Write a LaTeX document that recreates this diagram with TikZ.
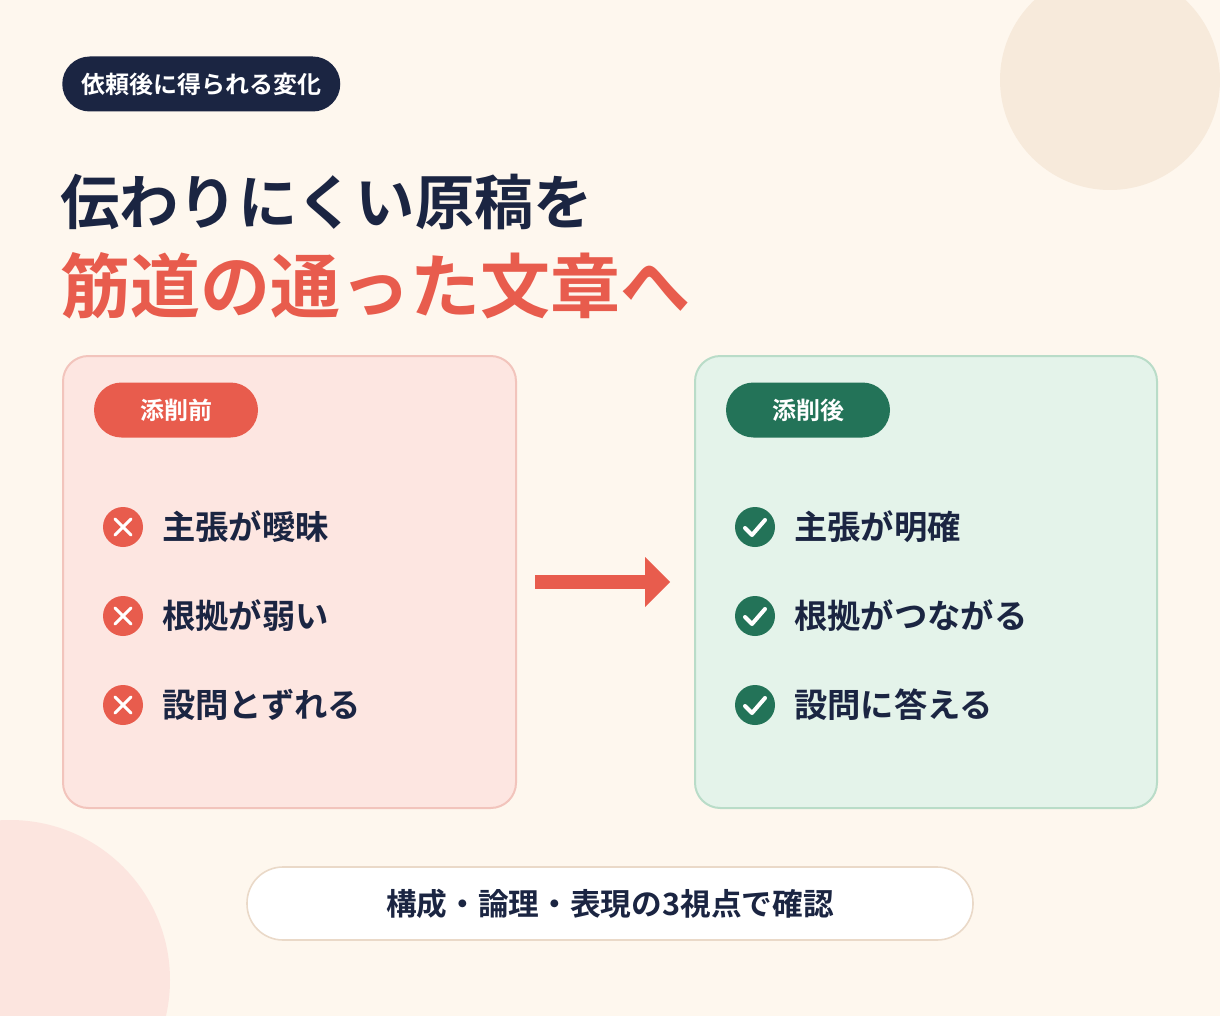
\documentclass[tikz,border=0pt]{standalone}
\usepackage{fontspec}
\setmainfont{Noto Sans CJK JP}[BoldFont={* Bold}]
\usetikzlibrary{positioning}
\definecolor{cream}{HTML}{FEF7EE}
\definecolor{sand}{HTML}{F7EADB}
\definecolor{blush}{HTML}{FCE5DF}
\definecolor{navy}{HTML}{1B2542}
\definecolor{coral}{HTML}{E85C4D}
\definecolor{pinkbox}{HTML}{FDE6E1}
\definecolor{pinkline}{HTML}{F2C4BC}
\definecolor{pine}{HTML}{237358}
\definecolor{mintbox}{HTML}{E4F3EA}
\definecolor{mintline}{HTML}{B9DCC8}
\definecolor{beige}{HTML}{EAD9C8}
\tikzset{
  pill/.style={rounded corners=27.5*0.75pt, minimum height=55*0.75pt, inner sep=0pt, text=white, font=\bfseries\fontsize{18}{18}\selectfont},
  item/.style={anchor=west, text=navy, font=\bfseries\fontsize{25}{25}\selectfont, inner sep=0pt},
  card/.style={rounded corners=19pt, line width=1.5pt},
}
\begin{document}
\begin{tikzpicture}[x=0.75pt,y=-0.75pt]
\fill[cream] (0,0) rectangle (1220,1016);
\useasboundingbox (0,0) rectangle (1220,1016);
\fill[sand] (1110,80) circle (110);
\fill[blush] (10,980) circle (160);

% header
\node[pill, fill=navy, minimum width=278*0.75pt, anchor=west] (tag) at (62,84) {依頼後に得られる変化};
\node[anchor=west, text=navy, font=\bfseries\fontsize{44.5}{44.5}\selectfont, inner sep=0pt] (title1) at (60,202) {伝わりにくい原稿を};
\node[anchor=west, text=coral, font=\bfseries\fontsize{52.5}{52.5}\selectfont, inner sep=0pt] (title2) at (60,286) {筋道の通った文章へ};

% cards
\draw[card, fill=pinkbox, draw=pinkline] (63,356) rectangle (516,808);
\draw[card, fill=mintbox, draw=mintline] (695,356) rectangle (1157,808);
\node[pill, fill=coral, minimum width=164*0.75pt] (before) at (176,410) {添削前};
\node[pill, fill=pine, minimum width=164*0.75pt] (after) at (808,410) {添削後};

% items
\foreach \t [count=\i] in {主張が曖昧,根拠が弱い,設問とずれる}{
  \pgfmathsetmacro{\yy}{527+(\i-1)*89}
  \fill[coral] (123,\yy) circle (20);
  \draw[white, line width=2.2pt, line cap=round] (115,\yy-8) -- (131,\yy+8) (115,\yy+8) -- (131,\yy-8);
  \node[item] (bad\i) at (162,\yy) {\t};
}
\foreach \t [count=\i] in {主張が明確,根拠がつながる,設問に答える}{
  \pgfmathsetmacro{\yy}{527+(\i-1)*89}
  \fill[pine] (755,\yy) circle (20);
  \draw[white, line width=3pt, line cap=round, line join=round] (745,\yy+1) -- (752,\yy+8) -- (765,\yy-7);
  \node[item] (good\i) at (794,\yy) {\t};
}

% arrow
\coordinate (a0) at (535,582);
\coordinate (a1) at (647,582);
\draw[coral, line width=10.5pt] (a0) -- (a1);
\fill[coral] (645,557) -- (670,582) -- (645,607) -- cycle;

% footer
\draw[fill=white, draw=beige, line width=1.2pt, rounded corners=27pt] (247,867) rectangle (973,940);
\node[text=navy, font=\bfseries\fontsize{23}{23}\selectfont, inner sep=0pt] (note) at (610,904) {構成・論理・表現の3視点で確認};
\end{tikzpicture}
\end{document}
